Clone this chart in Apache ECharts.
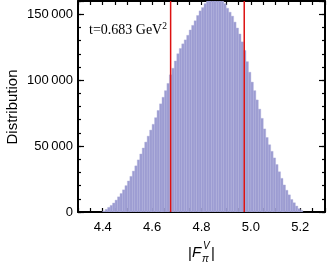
<!DOCTYPE html>
<html><head><meta charset="utf-8">
<script src="https://cdn.jsdelivr.net/npm/echarts@6/dist/echarts.min.js"></script>
<style>html,body{margin:0;padding:0;background:#fff}#c{width:327px;height:264px}</style>
</head><body><div id="c"></div>
<script>
// Histogram bins (left edge of first bin and bin width), counts per bin
const binStart = 4.40;
const binWidth = 0.01;
const counts = [
  800, 2000, 3500, 5000, 6800, 9000, 11500, 14000, 16800, 20000,
  23500, 27000, 31000, 35000, 39500, 44000, 48500, 53000, 57500, 62100,
  66500, 71500, 77000, 82000, 87000, 92000, 97500, 104000, 109000, 114500,
  120000, 124000, 127500, 130500, 134000, 138000, 141500, 145000, 149000, 152500,
  155000, 158000, 160500, 161500, 162000, 162500, 162000, 161000, 160000, 158000,
  154500, 151500, 148500, 144000, 139500, 135000, 129000, 122500, 114000, 106000,
  98500, 92000, 85000, 78000, 71000, 63000, 56500, 51000, 46000, 41000,
  36000, 30500, 25500, 20500, 16500, 13000, 9500, 7000, 4500, 2500,
  1200
];
const cutLines = [4.675, 4.973];
const xTickLabels = [4.4, 4.6, 4.8, 5.0, 5.2];
const yTickLabels = [0, 50000, 100000, 150000];
const annotationText = 't=0.683 GeV';
const annotationSup = '2';
const yName = 'Distribution';

const X_MIN = 4.3, X_MAX = 5.3, Y_MIN = 0, Y_MAX = 160000;

const histData = counts.map((c, i) => {
  const x0 = +(binStart + i * binWidth).toFixed(4);
  const x1 = +(binStart + (i + 1) * binWidth).toFixed(4);
  return [x0, x1, c];
});

const FONT = '"Liberation Sans", Arial, sans-serif';
const SERIF = '"Liberation Serif", "Times New Roman", serif';
const fmtY = v => yTickLabels.some(t => t === v)
  ? (v === 0 ? '0' : String(v).replace(/\B(?=(\d{3})+(?!\d))/g, '\u2009')) : '';
const fmtX = v => {
  const t = xTickLabels.find(t => Math.abs(t - v) < 1e-6);
  return t === undefined ? '' : t.toFixed(1);
};

const frameLine = { show: true, onZero: false, lineStyle: { color: '#000', width: 2 } };
const noLine = { show: false, onZero: false };
const tickStyle = { color: '#000', width: 1.2 };

function xAx(pos, labels) {
  return {
    type: 'value', position: pos, min: X_MIN, max: X_MAX, interval: 0.05,
    axisLine: frameLine,
    axisTick: { show: true, inside: true, length: 4, lineStyle: tickStyle },
    axisLabel: labels ? { show: true, formatter: fmtX, color: '#000', fontSize: 13, fontFamily: FONT, margin: 9 } : { show: false },
    splitLine: { show: false }
  };
}
function yAx(pos, interval, len, labels, line) {
  return {
    type: 'value', position: pos, min: Y_MIN, max: Y_MAX, interval: interval,
    axisLine: line ? frameLine : noLine,
    axisTick: { show: true, inside: true, length: len, lineStyle: tickStyle },
    axisLabel: labels ? { show: true, formatter: fmtY, color: '#000', fontSize: 13, fontFamily: FONT, margin: 5 } : { show: false },
    splitLine: { show: false }
  };
}

const chart = echarts.init(document.getElementById('c'), null, { renderer: 'canvas' });
chart.setOption({
  animation: false,
  backgroundColor: '#fff',
  grid: { left: 78, right: 2, top: 1, bottom: 52, containLabel: false, outerBoundsMode: 'none' },
  xAxis: [xAx('bottom', true), xAx('top', false)],
  yAxis: [
    yAx('left', 10000, 3, true, true),
    yAx('left', 50000, 6, false, false),
    yAx('right', 10000, 3, false, true),
    yAx('right', 50000, 6, false, false)
  ],
  title: {
    left: 89, top: 21, padding: 0,
    text: '{a|' + annotationText + '}{b|' + annotationSup + '}',
    textStyle: {
      fontWeight: 'normal',
      rich: {
        a: { fontFamily: SERIF, fontSize: 14, fontWeight: 'normal', color: '#000' },
        b: { fontFamily: SERIF, fontSize: 9.5, fontWeight: 'normal', color: '#000', padding: [0, 0, 8, 0] }
      }
    }
  },
  graphic: [
    { type: 'text', x: 13, y: 107, rotation: Math.PI / 2, style: { text: yName, font: '15px ' + FONT, fill: '#000', textAlign: 'center', textVerticalAlign: 'middle', align: 'center', verticalAlign: 'middle' } },
    { type: 'text', x: 188, y: 254, style: { text: '|', font: '15px ' + FONT, fill: '#000', textAlign: 'left', textVerticalAlign: 'middle' } },
    { type: 'text', x: 192, y: 253, style: { text: 'F', font: 'italic 15px ' + FONT, fill: '#000', textAlign: 'left', textVerticalAlign: 'middle' } },
    { type: 'text', x: 203, y: 246, style: { text: 'V', font: 'italic 10px ' + FONT, fill: '#000', textAlign: 'left', textVerticalAlign: 'middle' } },
    { type: 'text', x: 202, y: 259, style: { text: 'π', font: 'italic 10px ' + FONT, fill: '#000', textAlign: 'left', textVerticalAlign: 'middle' } },
    { type: 'text', x: 211, y: 254, style: { text: '|', font: '15px ' + FONT, fill: '#000', textAlign: 'left', textVerticalAlign: 'middle' } }
  ],
  series: [
    {
      type: 'custom',
      xAxisIndex: 0, yAxisIndex: 0,
      clip: true,
      encode: { x: [0, 1], y: 2 },
      data: histData,
      renderItem: (params, api) => {
        const p0 = api.coord([api.value(0), api.value(2)]);
        const p1 = api.coord([api.value(1), 0]);
        return {
          type: 'rect',
          shape: { x: p0[0], y: p0[1], width: p1[0] - p0[0], height: p1[1] - p0[1] },
          style: { fill: '#9c9cd2', stroke: '#b0b0dc', lineWidth: 0.4 }
        };
      },
      z: 1
    },
    ...cutLines.map(x => ({
      type: 'line', xAxisIndex: 0, yAxisIndex: 0,
      data: [[x, Y_MIN], [x, Y_MAX]],
      showSymbol: false, symbol: 'none',
      lineStyle: { color: '#dd1111', width: 1.5 },
      z: 3, silent: true
    }))
  ]
});
</script>
</body></html>
